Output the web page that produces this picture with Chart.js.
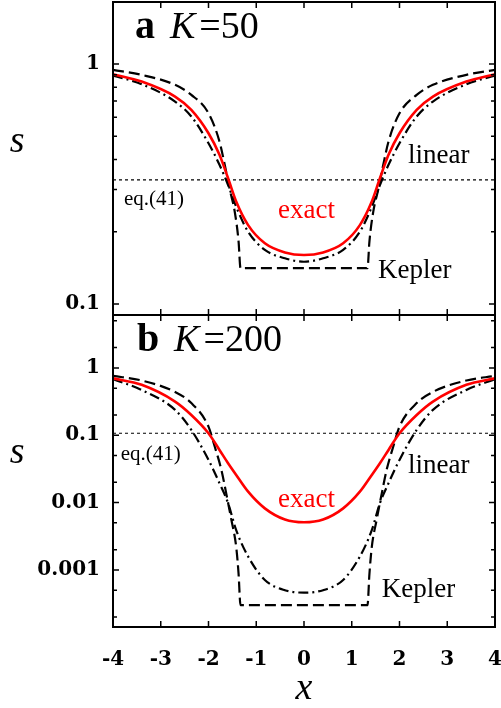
<!DOCTYPE html>
<html>
<head>
<meta charset="utf-8">
<script src="https://cdn.jsdelivr.net/npm/chart.js@4.4.1/dist/chart.umd.min.js"></script>
<style>
  html, body { margin: 0; padding: 0; background: #fff; }
  #wrap { position: relative; width: 501px; height: 708px; overflow: hidden; background: #fff; }
  canvas { position: absolute; left: 0; }
  #ca { top: 0; }
  #cb { top: 313px; }
</style>
</head>
<body>
<div id="wrap">
  <canvas id="ca" width="501" height="318"></canvas>
  <canvas id="cb" width="501" height="395"></canvas>
</div>
<script>
// x axis
const xTicks = [-4, -3, -2, -1, 0, 1, 2, 3, 4];
const xTickLabels = ['-4', '-3', '-2', '-1', '0', '1', '2', '3', '4'];

// x positions where the exact / linear curves were read
const xCurve = [-4, -3.4, -2.7, -2.36, -2, -1.77, -1.59, -1.42, -1.17, -0.82, -0.4, 0,
                0.4, 0.82, 1.17, 1.42, 1.59, 1.77, 2, 2.36, 2.7, 3.4, 4];

// panel a, K = 50
const exactA = [0.906, 0.844, 0.731, 0.643, 0.514, 0.418, 0.334, 0.267, 0.213, 0.179, 0.164, 0.160,
                0.164, 0.179, 0.213, 0.267, 0.334, 0.418, 0.514, 0.643, 0.731, 0.844, 0.906];
const linearA = [0.894, 0.823, 0.697, 0.604, 0.467, 0.380, 0.313, 0.254, 0.200, 0.168, 0.155, 0.150,
                 0.155, 0.168, 0.200, 0.254, 0.313, 0.380, 0.467, 0.604, 0.697, 0.823, 0.894];
const xKeplerA = [-4, -3.4, -2.7, -2.36, -2, -1.77, -1.66, -1.56, -1.45, -1.37, -1.33,
                  1.33, 1.37, 1.45, 1.56, 1.66, 1.77, 2, 2.36, 2.7, 3.4, 4];
const keplerA = [0.944, 0.900, 0.818, 0.743, 0.623, 0.475, 0.380, 0.303, 0.242, 0.182, 0.141,
                 0.141, 0.182, 0.242, 0.303, 0.380, 0.475, 0.623, 0.743, 0.818, 0.900, 0.944];
const eq41A = 0.329;
const yTicksA = [0.1, 1];
const yTickLabelsA = ['0.1', '1'];
const yMinorA = [0.2, 0.3, 0.4, 0.5, 0.6, 0.7, 0.8, 0.9];

// panel b, K = 200
const exactB = [0.70, 0.56, 0.316, 0.20, 0.107, 0.0605, 0.0384, 0.0257, 0.0145, 0.0082, 0.0056, 0.0051,
                0.0056, 0.0082, 0.0145, 0.0257, 0.0384, 0.0605, 0.107, 0.20, 0.316, 0.56, 0.70];
const linearB = [0.68, 0.47, 0.238, 0.12, 0.043, 0.0194, 0.0098, 0.0039, 0.00158, 0.00071, 0.0005, 0.00046,
                 0.0005, 0.00071, 0.00158, 0.0039, 0.0098, 0.0194, 0.043, 0.12, 0.238, 0.47, 0.68];
const xKeplerB = [-4, -3.4, -2.7, -2.36, -2, -1.87, -1.73, -1.63, -1.52, -1.42, -1.37, -1.33,
                  1.33, 1.37, 1.42, 1.52, 1.63, 1.73, 1.87, 2, 2.36, 2.7, 3.4, 4];
const keplerB = [0.76, 0.65, 0.44, 0.30, 0.134, 0.068, 0.0305, 0.0138, 0.0055, 0.0022, 0.00087, 0.0003,
                 0.0003, 0.00087, 0.0022, 0.0055, 0.0138, 0.0305, 0.068, 0.134, 0.30, 0.44, 0.65, 0.76];
const eq41B = 0.107;
const yTicksB = [0.001, 0.01, 0.1, 1];
const yTickLabelsB = ['0.001', '0.01', '0.1', '1'];
const yMinorB = [0.0002, 0.0005, 0.002, 0.005, 0.02, 0.05, 0.2, 0.5, 2, 5];

const SERIF = 'Liberation Serif';
const tickFont = { family: 'DejaVu Serif', weight: 'bold', size: 20 };

function pts(xs, ys) { return xs.map((x, i) => ({ x, y: ys[i] })); }

function makeDatasets(exact, linear, xKep, kep, eq) {
  const x0 = xTicks[0], x1 = xTicks[xTicks.length - 1];
  return [
    { label: 'exact', data: pts(xCurve, exact), borderColor: '#ff0000', borderWidth: 2.6 },
    { label: 'linear', data: pts(xCurve, linear), borderColor: '#000', borderWidth: 2.2, borderDash: [10, 4, 2, 4] },
    { label: 'Kepler', data: pts(xKep, kep), borderColor: '#000', borderWidth: 2.2, borderDash: [11, 5] },
    { label: 'eq.(41)', data: [{ x: x0, y: eq }, { x: x1, y: eq }], borderColor: '#000', borderWidth: 1.2, borderDash: [3, 3] }
  ];
}

// gnuplot-like frame with inward ticks on all four sides
const frameTicks = {
  id: 'frameTicks',
  afterDraw(chart, args, opts) {
    const { ctx, chartArea: a, scales: { x, y } } = chart;
    ctx.save();
    ctx.strokeStyle = '#000';
    ctx.lineWidth = 1.5;
    ctx.beginPath();
    xTicks.forEach(v => {
      const px = x.getPixelForValue(v);
      ctx.moveTo(px, a.bottom); ctx.lineTo(px, a.bottom - 6);
      ctx.moveTo(px, a.top); ctx.lineTo(px, a.top + 6);
    });
    const side = (v, len) => {
      const py = y.getPixelForValue(v);
      if (py < a.top || py > a.bottom) return;
      ctx.moveTo(a.left, py); ctx.lineTo(a.left + len, py);
      ctx.moveTo(a.right, py); ctx.lineTo(a.right - len, py);
    };
    opts.major.forEach(v => side(v, 6));
    opts.minor.forEach(v => side(v, 4));
    ctx.stroke();
    ctx.lineWidth = 2;
    ctx.strokeRect(a.left, a.top, a.right - a.left, a.bottom - a.top);
    ctx.restore();
  }
};

// text annotations placed in data coordinates
const notes = {
  id: 'notes',
  afterDraw(chart, args, opts) {
    const { ctx, scales: { x, y } } = chart;
    ctx.save();
    ctx.textBaseline = 'alphabetic';
    ctx.textAlign = 'left';
    opts.items.forEach(it => {
      let px = x.getPixelForValue(it.x);
      const py = y.getPixelForValue(it.y);
      it.parts.forEach(p => {
        ctx.font = p.font;
        ctx.fillStyle = p.color || '#000';
        ctx.fillText(p.text, px, py);
        px += ctx.measureText(p.text).width + (p.gap || 0);
      });
    });
    ctx.restore();
  }
};

function label(text, xv, yv, size, color) {
  return { x: xv, y: yv, parts: [{ text, font: size + 'px "' + SERIF + '"', color }] };
}
function panelTitle(letter, k, xv, yv) {
  return { x: xv, y: yv, parts: [
    { text: letter, font: 'bold 40px "' + SERIF + '"', gap: 15 },
    { text: 'K', font: 'italic 38px "' + SERIF + '"', gap: 4 },
    { text: '=' + k, font: '38px "' + SERIF + '"' }
  ] };
}

function makeChart(id, cfg) {
  return new Chart(document.getElementById(id), {
    type: 'line',
    data: { datasets: cfg.datasets },
    options: {
      responsive: false,
      animation: false,
      devicePixelRatio: 1,
      layout: { padding: cfg.padding },
      elements: {
        line: { cubicInterpolationMode: 'monotone', fill: false },
        point: { radius: 0, hoverRadius: 0 }
      },
      plugins: {
        legend: { display: false },
        tooltip: { enabled: false },
        frameTicks: { major: cfg.yTicks, minor: cfg.yMinor },
        notes: { items: cfg.notes }
      },
      scales: {
        x: {
          type: 'linear', min: -4, max: 4,
          display: cfg.showX,
          afterBuildTicks: s => { s.ticks = xTicks.map(v => ({ value: v })); },
          afterFit: s => {
            s.height = cfg.showX ? 81 : 0;
            s.paddingLeft = 0; s.paddingRight = 0;
          },
          grid: { display: false, drawTicks: false },
          border: { display: false },
          ticks: { color: '#000', font: tickFont, padding: 21, autoSkip: false, maxRotation: 0,
                   callback: (v, i) => xTickLabels[i] },
          title: { display: true, text: 'x', color: '#000', padding: { top: -3, bottom: 0 },
                   font: { family: SERIF, style: 'italic', size: 38, lineHeight: 1 } }
        },
        y: {
          type: 'logarithmic', min: cfg.yMin, max: cfg.yMax,
          afterBuildTicks: s => { s.ticks = cfg.yTicks.map(v => ({ value: v })); },
          afterFit: s => {
            s.width = 113;
            s.paddingTop = 0; s.paddingBottom = 0;
          },
          grid: { display: false, drawTicks: false },
          border: { display: false },
          ticks: { color: '#000', font: tickFont, padding: 13, autoSkip: false,
                   callback: (v, i) => cfg.yLabels[i] }
        }
      }
    },
    plugins: [frameTicks, notes]
  });
}

makeChart('ca', {
  datasets: makeDatasets(exactA, linearA, xKeplerA, keplerA, eq41A),
  padding: { top: 2, right: 6, bottom: 3, left: 0 },
  showX: false,
  yMin: 0.09, yMax: 1.81,
  yTicks: yTicksA, yLabels: yTickLabelsA, yMinor: yMinorA,
  notes: [
    panelTitle('a', 50, -3.54, 1.28),
    { x: -6.16, y: 0.43, parts: [{ text: 's', font: 'italic 38px "' + SERIF + '"' }] },
    label('linear', 2.18, 0.387, 27),
    label('eq.(41)', -3.77, 0.2585, 21),
    label('exact', -0.545, 0.228, 27, '#ff0000'),
    label('Kepler', 1.55, 0.128, 27)
  ]
});

makeChart('cb', {
  datasets: makeDatasets(exactB, linearB, xKeplerB, keplerB, eq41B),
  padding: { top: 2, right: 6, bottom: 0, left: 0 },
  showX: true,
  yMin: 0.000142, yMax: 6.1,
  yTicks: yTicksB, yLabels: yTickLabelsB, yMinor: yMinorB,
  notes: [
    panelTitle('b', 200, -3.50, 1.79),
    { x: -6.16, y: 0.0387, parts: [{ text: 's', font: 'italic 38px "' + SERIF + '"' }] },
    label('linear', 2.18, 0.0275, 27),
    label('eq.(41)', -3.84, 0.043, 21),
    label('exact', -0.545, 0.0086, 27, '#ff0000'),
    label('Kepler', 1.63, 0.000395, 27)
  ]
});
</script>
</body>
</html>
